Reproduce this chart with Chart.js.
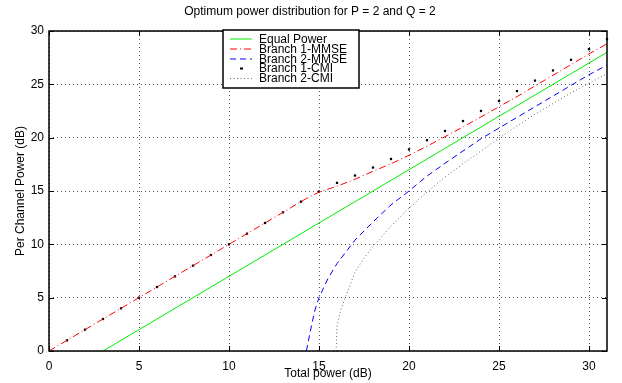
<!DOCTYPE html>
<html>
<head>
<meta charset="utf-8">
<script src="https://cdn.jsdelivr.net/npm/chart.js@4"></script>
<style>
  html, body { margin: 0; padding: 0; background: #fff; }
  #wrap { width: 622px; height: 383px; }
</style>
</head>
<body>
<div id="wrap"><canvas id="powerChart" width="622" height="383"></canvas></div>
<script>
// Values
const equalX = [3, 31];
const equalY = [0, 28];

const mmse1X = [0, 1, 2, 3, 4, 5, 6, 7, 8, 9, 10, 11, 12, 13, 14, 14.3, 15, 16, 17, 18, 19, 20, 21, 22, 23, 24, 25, 26, 27, 28, 29, 30, 31];
const mmse1Y = [0, 1, 2, 3, 4, 5, 6, 7, 8, 9, 10, 11, 12, 13, 14, 14.3, 14.9, 15.45, 16.1, 16.85, 17.55, 18.35, 19.2, 20.1, 21.0, 21.95, 22.9, 23.85, 24.85, 25.85, 26.85, 27.85, 28.8];

const mmse2X = [14.3, 14.5, 14.75, 15, 15.5, 16, 17, 18, 19, 20, 21, 22, 23, 24, 25, 26, 27, 28, 29, 30, 31];
const mmse2Y = [0, 1.7, 3.7, 5.0, 6.8, 8.2, 10.4, 12.1, 13.7, 15.0, 16.4, 17.6, 18.75, 19.9, 20.9, 21.9, 22.9, 23.9, 24.9, 25.9, 26.8];

const cmi1X = [1, 2, 3, 4, 5, 6, 7, 8, 9, 10, 11, 12, 13, 14, 15, 16, 17, 18, 19, 20, 21, 22, 23, 24, 25, 26, 27, 28, 29, 30, 31];
const cmi1Y = [1, 2, 3, 4, 5, 6, 7, 8, 9, 10, 11, 12, 13, 14, 14.95, 15.76, 16.45, 17.2, 18.0, 18.9, 19.76, 20.63, 21.56, 22.5, 23.44, 24.37, 25.35, 26.3, 27.3, 28.3, 29.24];

const cmi2X = [15.95, 16, 16.2, 16.5, 17, 17.5, 18, 19, 20, 21, 22, 23, 24, 25, 26, 27, 28, 29, 30, 31];
const cmi2Y = [0, 2.3, 3.8, 5.2, 7.4, 8.7, 9.8, 11.7, 13.4, 14.9, 16.3, 17.55, 18.75, 19.95, 21.1, 22.2, 23.2, 24.2, 25.1, 26.0];

const xTicks = [0, 5, 10, 15, 20, 25, 30];
const yTicks = [0, 5, 10, 15, 20, 25, 30];

const seriesNames = ['Equal Power', 'Branch 1-MMSE', 'Branch 2-MMSE', 'Branch 1-CMI', 'Branch 2-CMI'];

function toPoints(xs, ys) {
  return xs.map((x, i) => ({ x: x, y: ys[i] }));
}

Chart.defaults.font.family = "'Liberation Sans', Arial, Helvetica, sans-serif";
Chart.defaults.font.size = 12;
Chart.defaults.color = '#000';

// axes box, inward tick marks and the boxed legend (MATLAB look)
const matlabFrame = {
  id: 'matlabFrame',
  afterDraw(chart) {
    const { ctx, chartArea: a, scales } = chart;
    ctx.save();
    ctx.strokeStyle = '#000';
    ctx.lineWidth = 1.5;
    ctx.strokeRect(a.left, a.top, a.right - a.left, a.bottom - a.top);

    ctx.lineWidth = 1;
    ctx.beginPath();
    xTicks.forEach(v => {
      const px = Math.round(scales.x.getPixelForValue(v)) + 0.5;
      ctx.moveTo(px, a.bottom); ctx.lineTo(px, a.bottom - 5);
      ctx.moveTo(px, a.top); ctx.lineTo(px, a.top + 5);
    });
    yTicks.forEach(v => {
      const py = Math.round(scales.y.getPixelForValue(v)) + 0.5;
      ctx.moveTo(a.left, py); ctx.lineTo(a.left + 5, py);
      ctx.moveTo(a.right, py); ctx.lineTo(a.right - 5, py);
    });
    ctx.stroke();

    // legend
    const bx = 223, by = 30, bw = 136, bh = 58;
    ctx.fillStyle = '#fff';
    ctx.fillRect(bx, by, bw, bh);
    ctx.lineWidth = 1.5;
    ctx.strokeRect(bx, by, bw, bh);
    const rows = [39, 49, 59, 68.5, 78.5];
    ctx.font = "12px 'Liberation Sans', Arial, sans-serif";
    ctx.textBaseline = 'middle';
    chart.data.datasets.forEach((ds, i) => {
      const y = rows[i];
      if (ds.showLine === false) {
        ctx.fillStyle = ds.pointBackgroundColor;
        ctx.fillRect(240, y - 1, 3, 2);
      } else {
        ctx.strokeStyle = ds.borderColor;
        ctx.lineWidth = ds.borderWidth;
        ctx.setLineDash(ds.borderDash || []);
        ctx.beginPath();
        ctx.moveTo(230, y); ctx.lineTo(252, y);
        ctx.stroke();
        ctx.setLineDash([]);
      }
      ctx.fillStyle = '#000';
      ctx.fillText(ds.label, 259, y + 0.5);
    });
    ctx.restore();
  }
};

const ctx = document.getElementById('powerChart').getContext('2d');

const powerChart = new Chart(ctx, {
  type: 'scatter',
  data: {
    datasets: [
      {
        label: seriesNames[0],
        data: toPoints(equalX, equalY),
        showLine: true,
        borderColor: '#00ee00',
        borderWidth: 1,
        pointRadius: 0
      },
      {
        label: seriesNames[1],
        data: toPoints(mmse1X, mmse1Y),
        showLine: true,
        borderColor: '#ff0000',
        borderWidth: 1,
        borderDash: [7, 3, 1, 3],
        pointRadius: 0
      },
      {
        label: seriesNames[2],
        data: toPoints(mmse2X, mmse2Y),
        showLine: true,
        borderColor: '#0000ff',
        borderWidth: 1,
        borderDash: [6, 4],
        pointRadius: 0
      },
      {
        label: seriesNames[3],
        data: toPoints(cmi1X, cmi1Y),
        showLine: false,
        clip: 5,
        pointStyle: 'rect',
        pointRadius: 1.6,
        pointBackgroundColor: '#000',
        pointBorderColor: '#000',
        pointBorderWidth: 0
      },
      {
        label: seriesNames[4],
        data: toPoints(cmi2X, cmi2Y),
        showLine: true,
        borderColor: '#666',
        borderWidth: 1,
        borderDash: [1, 2.5],
        pointRadius: 0
      }
    ]
  },
  options: {
    responsive: false,
    animation: false,
    layout: { padding: { left: 13, right: 15, top: 0, bottom: 2 } },
    plugins: {
      legend: { display: false },
      tooltip: { enabled: false },
      title: {
        display: true,
        text: 'Optimum power distribution for P = 2 and Q = 2',
        font: { size: 12, weight: 'normal' },
        color: '#000',
        padding: { top: 4, bottom: 12.6 }
      }
    },
    scales: {
      x: {
        type: 'linear',
        min: 0,
        max: 31,
        afterFit: (scale) => { scale.height = 30; },
        ticks: { stepSize: 5, includeBounds: false, padding: 8, color: '#000' },
        grid: { color: 'rgba(0,0,0,0.65)', lineWidth: 1, drawTicks: false },
        border: { display: false, dash: [1, 3] },
        title: { display: true, text: 'Total power (dB)', color: '#000', padding: 0 }
      },
      y: {
        type: 'linear',
        min: 0,
        max: 30,
        afterFit: (scale) => { scale.width = 36; },
        ticks: { stepSize: 5, padding: 5, color: '#000' },
        grid: { color: 'rgba(0,0,0,0.65)', lineWidth: 1, drawTicks: false },
        border: { display: false, dash: [1, 3] },
        title: { display: true, text: 'Per Channel Power (dB)', color: '#000', padding: 0 }
      }
    }
  },
  plugins: [matlabFrame]
});
</script>
</body>
</html>
